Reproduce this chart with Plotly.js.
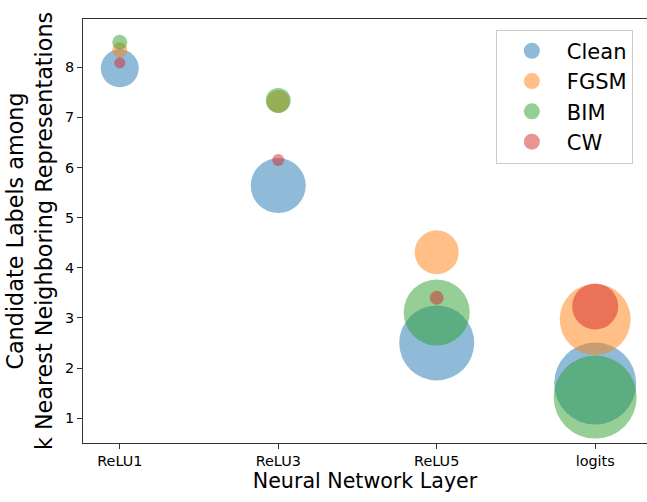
<!DOCTYPE html>
<html>
<head>
<meta charset="utf-8">
<script src="https://cdn.plot.ly/plotly-3.0.1.min.js"></script>
<style>
html,body{margin:0;padding:0;background:#fff;}
#chart{width:647px;height:502px;}
</style>
</head>
<body>
<div id="chart"></div>
<script>
// Layers (x categories)
const layers = ["ReLU1", "ReLU3", "ReLU5", "logits"];
// Candidate-label counts (y values)
const cleanY = [7.98, 5.64, 2.50, 1.69];
const fgsmY  = [8.35, 7.32, 4.31, 2.97];
const bimY   = [8.50, 7.34, 3.11, 1.42];
const cwY    = [8.09, 6.15, 3.40, 3.23];
// Bubble sizes (spread of candidate counts)
const cleanS = [38, 55, 75, 82];
const fgsmS  = [15, 23, 44, 71];
const bimS   = [15, 25, 66, 83];
const cwS    = [11, 12, 14, 46];
const seriesNames = ["Clean", "FGSM", "BIM", "CW"];

const colors = ["#1f77b4", "#ff7f0e", "#2ca02c", "#d62728"];
const ys = [cleanY, fgsmY, bimY, cwY];
const ss = [cleanS, fgsmS, bimS, cwS];

const traces = seriesNames.map((name, i) => ({
  type: "scatter",
  mode: "markers",
  name: name,
  legendgroup: name,
  x: layers,
  y: ys[i],
  marker: {
    size: ss[i],
    sizemode: "diameter",
    color: colors[i],
    opacity: 0.5,
    line: {width: 0}
  },
  hoverinfo: "x+y+name"
}));

const font = "DejaVu Sans, Liberation Sans, Arial, sans-serif";

const layout = {
  width: 647,
  height: 502,
  margin: {l: 83, r: 0, t: 19, b: 59, pad: 0},
  paper_bgcolor: "#ffffff",
  plot_bgcolor: "#ffffff",
  font: {family: font, color: "#000000", size: 14},
  showlegend: true,
  legend: {
    x: 0.732, y: 0.975, xanchor: "left", yanchor: "top",
    bgcolor: "rgba(255,255,255,0.8)",
    bordercolor: "#cccccc", borderwidth: 1,
    font: {family: font, size: 21, color: "#000000"},
    itemwidth: 60,
    tracegroupgap: 7,
    traceorder: "normal"
  },
  xaxis: {
    type: "category",
    range: [-0.232, 3.327],
    showgrid: false, zeroline: false,
    showline: true, linecolor: "#333333", linewidth: 1, mirror: true,
    ticks: "outside", ticklen: 5, tickwidth: 1, tickcolor: "#333333",
    tickfont: {family: font, size: 14.4, color: "#000000"},
    title: {text: "Neural Network Layer", font: {family: font, size: 20.6, color: "#000000"}, standoff: 2},
    automargin: true
  },
  yaxis: {
    range: [0.504, 8.964],
    tickmode: "array",
    tickvals: [1, 2, 3, 4, 5, 6, 7, 8],
    ticktext: ["1", "2", "3", "4", "5", "6", "7", "8"],
    showgrid: false, zeroline: false,
    showline: true, linecolor: "#333333", linewidth: 1, mirror: false,
    ticks: "outside", ticklen: 5, tickwidth: 1, tickcolor: "#333333",
    tickfont: {family: font, size: 14.4, color: "#000000"},
    title: {text: "Candidate Labels among<br>k Nearest Neighboring Representations", font: {family: font, size: 22.3, color: "#000000"}, standoff: 6},
    automargin: false
  }
};

Plotly.newPlot("chart", traces, layout, {displayModeBar: false, responsive: false});
</script>
</body>
</html>
